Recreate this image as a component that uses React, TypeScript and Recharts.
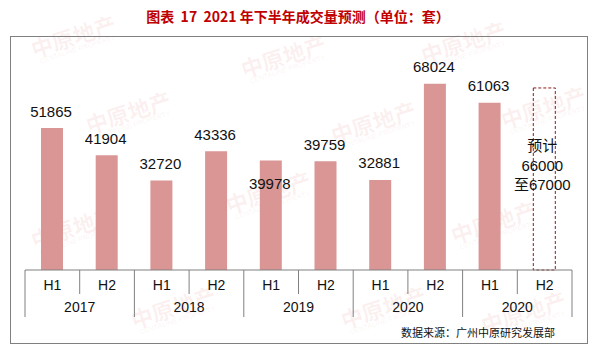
import React from "react";
import { BarChart, Bar, XAxis, YAxis, LabelList } from "recharts";

const halves = ["H1", "H2", "H1", "H2", "H1", "H2", "H1", "H2", "H1", "H2"];
const years = ["2017", "2018", "2019", "2020", "2020"];
const actual = [51865, 41904, 32720, 43336, 39978, 39759, 32881, 68024, 61063, null];
const forecast = [null, null, null, null, null, null, null, null, null, 66500];
const forecastText = ["预计", "66000", "至67000"];

const data = halves.map((h, i) => ({
  half: h,
  year: years[Math.floor(i / 2)],
  actual: actual[i],
  forecast: forecast[i],
}));

const W = 599;
const H = 358;
const LEFT = 25;
const RIGHT = 27;
const TOP = 51;
const AXIS_H = 88;
const BASE = H - AXIS_H;
const BAND = (W - LEFT - RIGHT) / halves.length;
const FONT = "'Liberation Sans', Arial, sans-serif";
const CJK = "'Noto Sans CJK SC', sans-serif";

// faint background stamps
const watermarks = [
  [30, 24], [240, 44], [420, 30], [85, 100], [330, 110], [500, 95],
  [30, 215], [225, 180], [450, 210], [130, 295], [340, 295], [480, 300],
];

function Tick(props: any) {
  const { x, index } = props;
  const left = x - BAND / 2;
  const right = x + BAND / 2;
  const even = index % 2 === 0;
  return (
    <g>
      <line x1={left} y1={BASE} x2={left} y2={BASE + (even ? 47 : 24)} stroke="#808080" />
      {index === halves.length - 1 && (
        <line x1={right} y1={BASE} x2={right} y2={BASE + 47} stroke="#808080" />
      )}
      <text x={x} y={BASE + 20} textAnchor="middle" fontSize={14} fontFamily={FONT} fill="#111">
        {halves[index]}
      </text>
      {even && (
        <text x={right} y={BASE + 42} textAnchor="middle" fontSize={14} fontFamily={FONT} fill="#111">
          {years[index / 2]}
        </text>
      )}
    </g>
  );
}

function ValueLabel(props: any) {
  const { x, y, width, value, index } = props;
  if (value == null) return null;
  const cy = index === 4 ? y + 23 : y - 17;
  return (
    <text x={x + width / 2 - 1} y={cy + 5.5} textAnchor="middle" fontSize={15} fontFamily={FONT} fill="#111">
      {value}
    </text>
  );
}

function ForecastLabel(props: any) {
  const { x, width, value } = props;
  if (value == null) return null;
  return (
    <g>
      {forecastText.map((t, i) => (
        <text
          key={i}
          x={x + width / 2 - 2}
          y={151 + i * 19.5}
          textAnchor="middle"
          fontSize={15}
          fontFamily={i === 0 ? CJK : `${FONT}, ${CJK}`}
          fill="#111"
        >
          {t}
        </text>
      ))}
    </g>
  );
}

export default function App() {
  return (
    <div style={{ position: "absolute", left: 0, top: 0, width: W, height: H, background: "#fff", overflow: "hidden" }}>
      {watermarks.map(([wx, wy], i) => (
        <div
          key={i}
          style={{
            position: "absolute",
            left: wx,
            top: wy,
            transform: "rotate(-18deg)",
            color: "rgba(215,90,90,0.09)",
            fontFamily: CJK,
            lineHeight: 1,
            textAlign: "center",
            pointerEvents: "none",
          }}
        >
          <div style={{ fontSize: 22, fontWeight: 700 }}>中原地产</div>
          <div style={{ fontSize: 7, fontFamily: FONT }}>CENTALINE PROPERTY</div>
        </div>
      ))}
      <div
        style={{
          position: "absolute",
          left: 10,
          top: 36,
          width: 576,
          height: 306,
          border: "1px solid #808080",
        }}
      />
      <div
        style={{
          position: "absolute",
          left: 0,
          top: 6,
          width: 596,
          textAlign: "center",
          fontFamily: CJK,
          fontWeight: 700,
          fontSize: 14,
          color: "#C00000",
          whiteSpace: "pre",
        }}
      >
        图表  17  2021 年下半年成交量预测（单位：套）
      </div>
      <div
        style={{
          position: "absolute",
          right: 44,
          top: 324,
          fontFamily: CJK,
          fontSize: 11,
          color: "#111",
        }}
      >
        数据来源：广州中原研究发展部
      </div>
      <div style={{ position: "absolute", left: 0, top: 0 }}>
        <BarChart
          width={W}
          height={H}
          data={data}
          margin={{ top: TOP, right: RIGHT, left: LEFT, bottom: 0 }}
          barSize={22}
        >
          <YAxis hide domain={[0, 80000]} />
          <XAxis
            dataKey="half"
            height={AXIS_H}
            axisLine={{ stroke: "#808080" }}
            tickLine={false}
            interval={0}
            tick={<Tick />}
          />
          <Bar dataKey="actual" stackId="a" fill="#D99694" isAnimationActive={false}>
            <LabelList dataKey="actual" content={<ValueLabel />} />
          </Bar>
          <Bar
            dataKey="forecast"
            stackId="a"
            fill="none"
            stroke="#8B1A1A"
            strokeDasharray="3 2"
            isAnimationActive={false}
          >
            <LabelList dataKey="forecast" content={<ForecastLabel />} />
          </Bar>
        </BarChart>
      </div>
    </div>
  );
}
